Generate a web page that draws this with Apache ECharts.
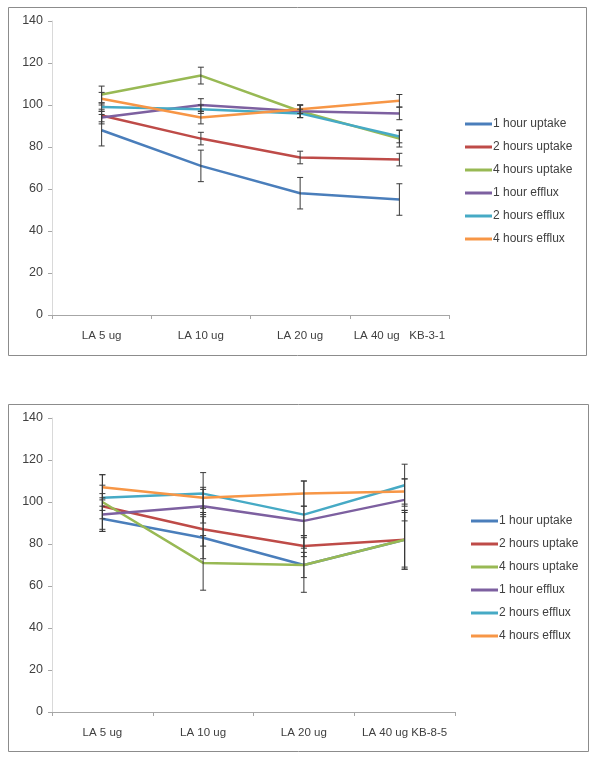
<!DOCTYPE html>
<html><head><meta charset="utf-8">
<script src="https://cdn.jsdelivr.net/npm/echarts@6/dist/echarts.min.js"></script>
<style>html,body{margin:0;padding:0;background:#fff}#c{width:600px;height:761px}</style>
</head><body><div id="c"></div>
<script>
// ---- Data ----
const seriesNames = ['1 hour uptake','2 hours uptake','4 hours uptake','1 hour efflux','2 hours efflux','4 hours efflux'];
const yTicks = [0,20,40,60,80,100,120,140];

// Top chart (KB-3-1)
const catsTop = ['LA 5 ug','LA 10 ug','LA 20 ug','LA 40 ug   KB-3-1'];
const top1hUptake  = [88, 71, 58, 55];
const top2hUptake  = [95, 84, 75, 74];
const top4hUptake  = [105, 114, 97, 84];
const top1hEfflux  = [94, 100, 97, 96];
const top2hEfflux  = [99, 98, 96, 85];
const top4hEfflux  = [103, 94, 98, 102];
const topErr1hUptake = [7.5, 7.5, 7.5, 7.5];
const topErr2hUptake = [3, 3, 3, 3];
const topErr4hUptake = [4, 4, 3, 4];
const topErr1hEfflux = [3, 3, 3, 3];
const topErr2hEfflux = [2, 2, 2, 3];
const topErr4hEfflux = [3, 3, 2, 3];

// Bottom chart (KB-8-5)
const catsBot = ['LA 5 ug','LA 10 ug','LA 20 ug','LA 40 ug KB-8-5'];
const bot1hUptake  = [92, 83, 70, 82];
const bot2hUptake  = [98, 87, 79, 82];
const bot4hUptake  = [100, 71, 70, 82];
const bot1hEfflux  = [94, 98, 91, 101];
const bot2hEfflux  = [102, 104, 94, 108];
const bot4hEfflux  = [107, 102, 104, 105];
const botErr1hUptake = [6, 10, 6, 14];
const botErr2hUptake = [6, 8, 5, 13];
const botErr4hUptake = [13, 13, 13, 14];
const botErr1hEfflux = [8, 8, 7, 10];
const botErr2hEfflux = [6, 10, 16, 10];
const botErr4hEfflux = [6, 5, 6, 6];

// ---- Styles ----
const colors = ['#4A7EBB','#BE4B48','#98B954','#7D60A0','#46AAC5','#F79646'];
const FONT = 'Liberation Sans';
const txt = '#404040';

const topVals = [top1hUptake, top2hUptake, top4hUptake, top1hEfflux, top2hEfflux, top4hEfflux];
const topErrs = [topErr1hUptake, topErr2hUptake, topErr4hUptake, topErr1hEfflux, topErr2hEfflux, topErr4hEfflux];
const botVals = [bot1hUptake, bot2hUptake, bot4hUptake, bot1hEfflux, bot2hEfflux, bot4hEfflux];
const botErrs = [botErr1hUptake, botErr2hUptake, botErr4hUptake, botErr1hEfflux, botErr2hEfflux, botErr4hEfflux];

function errRender(params, api) {
  const x = api.value(0), lo = api.value(1), hi = api.value(2);
  const p1 = api.coord([x, lo]), p2 = api.coord([x, hi]);
  const w = 3;
  const st = {stroke: api.visual('color'), lineWidth: 1};
  return {type: 'group', children: [
    {type: 'line', shape: {x1: p1[0], y1: p1[1], x2: p2[0], y2: p2[1]}, style: st},
    {type: 'line', shape: {x1: p1[0]-w, y1: p1[1], x2: p1[0]+w, y2: p1[1]}, style: st},
    {type: 'line', shape: {x1: p2[0]-w, y1: p2[1], x2: p2[0]+w, y2: p2[1]}, style: st}
  ]};
}

function xAxisCfg(cats, gi) {
  return {type: 'category', gridIndex: gi, data: cats, boundaryGap: true,
    axisLine: {lineStyle: {color: '#A6A6A6', width: 1}},
    axisTick: {show: true, length: 4, inside: false, lineStyle: {color: '#A6A6A6'}},
    axisLabel: {color: txt, fontFamily: FONT, fontSize: 11.5, margin: 15, interval: 0},
    splitLine: {show: false}};
}
function yAxisCfg(gi) {
  return {type: 'value', gridIndex: gi, min: 0, max: 140, interval: 20,
    axisLine: {show: true, lineStyle: {color: '#D9D9D9', width: 1}},
    axisTick: {show: true, length: 4, lineStyle: {color: '#A6A6A6'}},
    axisLabel: {color: txt, fontFamily: FONT, fontSize: 12.5, margin: 9},
    splitLine: {show: false}};
}

const series = [];
[[topVals, topErrs, 0], [botVals, botErrs, 1]].forEach(([vals, errs, gi]) => {
  vals.forEach((v, i) => {
    series.push({type: 'custom', name: seriesNames[i] + ' err', xAxisIndex: gi, yAxisIndex: gi,
      renderItem: errRender, itemStyle: {color: '#3a3a3a'}, z: 3, silent: true,
      data: v.map((y, k) => [k, y - errs[i][k], y + errs[i][k]])});
  });
  vals.forEach((v, i) => {
    series.push({type: 'line', name: seriesNames[i], xAxisIndex: gi, yAxisIndex: gi,
      data: v, showSymbol: false, symbol: 'none', color: colors[i], z: 2,
      lineStyle: {width: 2.5, color: colors[i]}});
  });
});

function legendCfg(left, top) {
  return {orient: 'vertical', left: left, top: top, data: seriesNames,
    icon: 'rect', itemWidth: 27, itemHeight: 3, itemGap: 11,
    textStyle: {color: txt, fontFamily: FONT, fontSize: 12, padding: [0,0,0,-4]}};
}

const chart = echarts.init(document.getElementById('c'), null, {renderer: 'canvas'});
chart.setOption({
  animation: false,
  backgroundColor: '#fff',
  grid: [
    {left: 52, top: 21, width: 397, height: 294},
    {left: 52, top: 418, width: 403, height: 294}
  ],
  xAxis: [xAxisCfg(catsTop, 0), xAxisCfg(catsBot, 1)],
  yAxis: [yAxisCfg(0), yAxisCfg(1)],
  legend: [legendCfg(460, 113), legendCfg(466, 510)],
  graphic: [
    {type: 'rect', shape: {x: 8.5, y: 7.5, width: 578, height: 348}, style: {fill: null, stroke: '#8C8C8C', lineWidth: 1}, z: -1},
    {type: 'rect', shape: {x: 8.5, y: 404.5, width: 580, height: 347}, style: {fill: null, stroke: '#8C8C8C', lineWidth: 1}, z: -1}
  ],
  series: series
});
</script></body></html>
